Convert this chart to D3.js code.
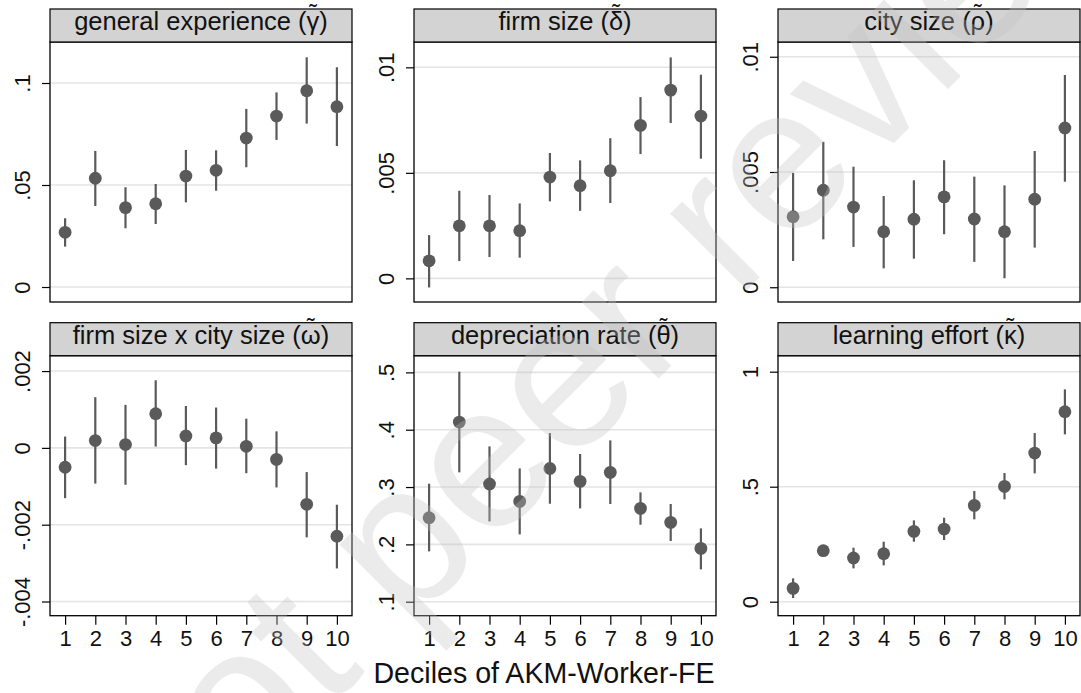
<!DOCTYPE html>
<html>
<head>
<meta charset="utf-8">
<script src="https://cdn.jsdelivr.net/npm/d3@7"></script>
<style>
  html, body { margin: 0; padding: 0; background: #fff; }
  svg { display: block; font-family: "Liberation Sans", Arial, sans-serif; }
</style>
</head>
<body>
<svg id="chart" width="1081" height="693"></svg>
<script>
// Deciles of the AKM worker fixed effect
const deciles = [1, 2, 3, 4, 5, 6, 7, 8, 9, 10];

// Panel titles; the Greek parameter gets a tilde placed above it
const panelTitles = [
  "general experience (\u03B3",
  "firm size (\u03B4",
  "city size (\u03C1",
  "firm size x city size (\u03C9",
  "depreciation rate (\u03B8",
  "learning effort (\u03BA"
];

// Point estimates with lower / upper confidence bounds
const genExpEst = [0.0268, 0.0533, 0.0389, 0.0408, 0.0544, 0.0572, 0.0730, 0.0838, 0.0962, 0.0884];
const genExpLo  = [0.0198, 0.0397, 0.0288, 0.0309, 0.0415, 0.0472, 0.0587, 0.0721, 0.0801, 0.0691];
const genExpHi  = [0.0337, 0.0667, 0.0489, 0.0505, 0.0672, 0.0670, 0.0873, 0.0954, 0.1126, 0.1077];

const firmEst = [0.00083, 0.00249, 0.00249, 0.00226, 0.00480, 0.00439, 0.00510, 0.00725, 0.00892, 0.00769];
const firmLo  = [-0.00043, 0.00082, 0.00101, 0.00098, 0.00365, 0.00320, 0.00357, 0.00589, 0.00736, 0.00567];
const firmHi  = [0.00205, 0.00415, 0.00395, 0.00355, 0.00594, 0.00559, 0.00664, 0.00859, 0.01047, 0.00965];

const cityEst = [0.00306, 0.00421, 0.00348, 0.00241, 0.00295, 0.00392, 0.00296, 0.00241, 0.00382, 0.00691];
const cityLo  = [0.00114, 0.00208, 0.00175, 0.00082, 0.00124, 0.00230, 0.00110, 0.00039, 0.00172, 0.00458];
const cityHi  = [0.00496, 0.00631, 0.00523, 0.00396, 0.00464, 0.00551, 0.00480, 0.00442, 0.00591, 0.00921];

const interEst = [-0.000505, 0.00019, 0.000086, 0.00089, 0.00031, 0.00026, 0.00004, -0.00030, -0.00147, -0.00230];
const interLo  = [-0.00131, -0.00093, -0.00096, 0.000034, -0.00045, -0.00054, -0.00066, -0.00103, -0.00233, -0.00314];
const interHi  = [0.000294, 0.00132, 0.00112, 0.00176, 0.00109, 0.00105, 0.00076, 0.00043, -0.00063, -0.00148];

const deprEst = [0.2465, 0.4134, 0.3053, 0.2750, 0.3325, 0.3099, 0.3256, 0.2628, 0.2384, 0.1930];
const deprLo  = [0.1878, 0.3256, 0.2401, 0.2174, 0.2709, 0.2628, 0.2704, 0.2343, 0.2059, 0.1564];
const deprHi  = [0.3058, 0.5012, 0.3709, 0.3325, 0.3942, 0.3576, 0.3814, 0.2907, 0.2704, 0.2279];

const learnEst = [0.0580, 0.2217, 0.1900, 0.2087, 0.3058, 0.3159, 0.4188, 0.5014, 0.6464, 0.8261];
const learnLo  = [0.0160, 0.2070, 0.1449, 0.1580, 0.2609, 0.2681, 0.3580, 0.4449, 0.5580, 0.7275];
const learnHi  = [0.1014, 0.2360, 0.2348, 0.2609, 0.3536, 0.3652, 0.4812, 0.5594, 0.7333, 0.9232];

// Y axis tick values per panel
const genExpTicks = [0, 0.05, 0.1];
const firmTicks   = [0, 0.005, 0.01];
const cityTicks   = [0, 0.005, 0.01];
const interTicks  = [-0.004, -0.002, 0, 0.002];
const deprTicks   = [0.1, 0.2, 0.3, 0.4, 0.5];
const learnTicks  = [0, 0.5, 1];

// Y axis ranges per panel
const yRanges = [
  [-0.00735, 0.1201],
  [-0.00112, 0.0112],
  [-0.00064, 0.01064],
  [-0.00437, 0.0024],
  [0.0756, 0.5291],
  [-0.0609, 1.0696]
];

const xTitle = "Deciles of AKM-Worker-FE";
const watermark = "Preprint not peer reviewed";

const panels = [
  { est: genExpEst, lo: genExpLo, hi: genExpHi, ticks: genExpTicks },
  { est: firmEst,   lo: firmLo,   hi: firmHi,   ticks: firmTicks },
  { est: cityEst,   lo: cityLo,   hi: cityHi,   ticks: cityTicks },
  { est: interEst,  lo: interLo,  hi: interHi,  ticks: interTicks },
  { est: deprEst,   lo: deprLo,   hi: deprHi,   ticks: deprTicks },
  { est: learnEst,  lo: learnLo,  hi: learnHi,  ticks: learnTicks }
];

// Layout
const colLeft = [50, 414, 778];
const rowTop = [9, 322.7];
const panelW = 302;
const headerH = 33;
const plotH = 260;
const markColor = "#5a5a5a";
const fontFam = "Liberation Sans, Arial, sans-serif";

// Stata-style numbers: drop the leading zero
const fmt = v => {
  const s = String(+v.toPrecision(6));
  return s.replace(/^0\./, ".").replace(/^-0\./, "-.");
};

const svg = d3.select("#chart");

panels.forEach((p, i) => {
  const col = i % 3, row = Math.floor(i / 3);
  const left = colLeft[col];
  const top = rowTop[row];
  const plotTop = top + headerH;

  const g = svg.append("g").attr("transform", `translate(${left},${plotTop})`);

  const x = d3.scaleLinear().domain([0.5, 10.5]).range([0, panelW]);
  const y = d3.scaleLinear().domain(yRanges[i]).range([plotH, 0]);

  // header strip
  svg.append("rect")
    .attr("x", left).attr("y", top)
    .attr("width", panelW).attr("height", headerH)
    .attr("fill", "#d3d3d3").attr("stroke", "#000").attr("stroke-width", 1.2);

  // title with a tilde over the Greek symbol, then the closing parenthesis
  const title = svg.append("text")
    .attr("x", left + panelW / 2).attr("y", top + 21)
    .attr("text-anchor", "middle")
    .attr("font-size", 25.5).attr("fill", "#111");
  title.append("tspan").text(panelTitles[i]);
  const tilde = title.append("tspan").attr("font-size", 23).text("\u02DC");
  const close = title.append("tspan").text(")");
  const n = panelTitles[i].length;
  const greekW = title.node().getExtentOfChar(n - 1).width;
  const tildeW = title.node().getExtentOfChar(n).width;
  tilde.attr("dx", -(greekW + tildeW) / 2).attr("dy", -9);
  close.attr("dx", (greekW - tildeW) / 2).attr("dy", 9);

  // grid lines
  g.selectAll("line.grid").data(p.ticks).join("line")
    .attr("class", "grid")
    .attr("x1", 0).attr("x2", panelW)
    .attr("y1", d => y(d)).attr("y2", d => y(d))
    .attr("stroke", "#e4e4e4").attr("stroke-width", 1.6);

  // y axis
  const yAxis = g.append("g")
    .call(d3.axisLeft(y).tickValues(p.ticks).tickSize(8).tickFormat(fmt));
  yAxis.select(".domain").remove();
  yAxis.selectAll(".tick line").attr("stroke", "#000").attr("stroke-width", 1.2);
  yAxis.selectAll(".tick text")
    .attr("x", null).attr("dy", null)
    .attr("transform", "translate(-20.5,0) rotate(-90)")
    .attr("text-anchor", "middle")
    .attr("font-size", 22).attr("fill", "#111")
    .attr("font-family", fontFam);

  // x axis on the bottom row only
  if (row === 1) {
    const xAxis = g.append("g")
      .attr("transform", `translate(0,${plotH})`)
      .call(d3.axisBottom(x).tickValues(deciles).tickSize(9).tickFormat(d3.format("d")));
    xAxis.select(".domain").remove();
    xAxis.selectAll(".tick line").attr("stroke", "#000").attr("stroke-width", 1.2);
    xAxis.selectAll(".tick text")
      .attr("y", 30).attr("dy", null)
      .attr("font-size", 22).attr("fill", "#111")
      .attr("font-family", fontFam);
  }

  // confidence intervals
  g.selectAll("line.ci").data(deciles).join("line")
    .attr("class", "ci")
    .attr("x1", d => x(d)).attr("x2", d => x(d))
    .attr("y1", (d, j) => y(p.lo[j])).attr("y2", (d, j) => y(p.hi[j]))
    .attr("stroke", markColor).attr("stroke-width", 2.2);

  // point estimates
  g.selectAll("circle.pt").data(deciles).join("circle")
    .attr("class", "pt")
    .attr("cx", d => x(d)).attr("cy", (d, j) => y(p.est[j]))
    .attr("r", 6.4).attr("fill", markColor);

  // plot frame
  g.append("rect")
    .attr("x", 0).attr("y", 0).attr("width", panelW).attr("height", plotH)
    .attr("fill", "none").attr("stroke", "#000").attr("stroke-width", 1.3);
});

// common x axis title
svg.append("text")
  .attr("x", 544).attr("y", 683)
  .attr("text-anchor", "middle")
  .attr("font-size", 28.6).attr("fill", "#111")
  .text(xTitle);

// diagonal preprint stamp, placed by the start of "t peer"
const stamp = svg.append("text")
  .attr("transform", "translate(326,711) rotate(-45)")
  .attr("font-size", 205)
  .attr("font-family", fontFam)
  .attr("fill", "#c0c0c0").attr("fill-opacity", 0.32)
  .text(watermark);
const lead = stamp.node().getSubStringLength(0, watermark.indexOf("t peer"));
stamp.attr("x", -lead);
</script>
</body>
</html>
